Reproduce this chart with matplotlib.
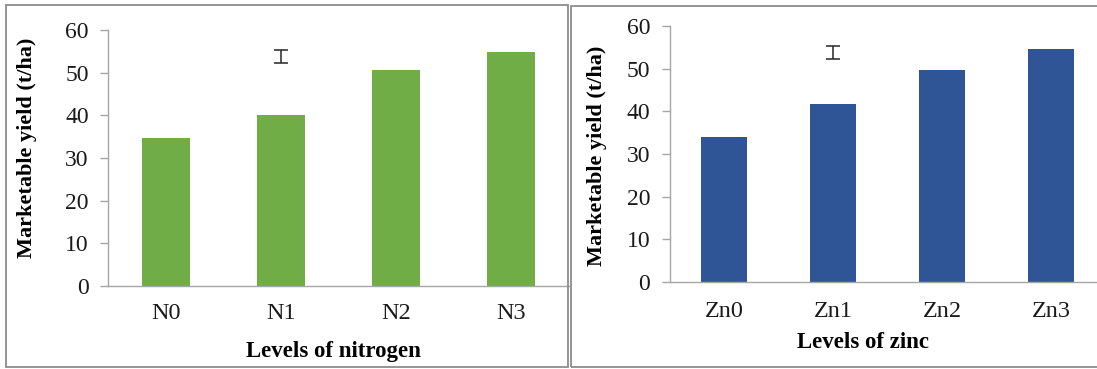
import matplotlib
matplotlib.use("Agg")
import matplotlib.pyplot as plt
from matplotlib.patches import Rectangle

# Marketable yield by nutrient level
nitrogen_levels = ["N0", "N1", "N2", "N3"]
nitrogen_yield = [34.7, 40.1, 50.7, 54.9]

zinc_levels = ["Zn0", "Zn1", "Zn2", "Zn3"]
zinc_yield = [34.0, 41.8, 49.8, 54.5]

# LSD bars (centre and half-length), drawn above level 1
lsd_centre = [53.8, 53.8]
lsd_half = [1.5, 1.5]

y_ticks = [0, 10, 20, 30, 40, 50, 60]

plt.rcParams["font.family"] = ["Liberation Serif", "DejaVu Serif"]

W, H = 1097, 369
fig = plt.figure(figsize=(W / 100, H / 100), dpi=100)

AXIS_GREY = "#A6A6A6"
FRAME_GREY = "#8C8C8C"


def px_axes(x0, y_top, width, height):
    return fig.add_axes([x0 / W, (H - y_top - height) / H, width / W, height / H])


def frame(x0, y0, x1, y1):
    fig.patches.append(Rectangle((x0 / W, 1 - y1 / H), (x1 - x0) / W, (y1 - y0) / H,
                                 transform=fig.transFigure, fill=False,
                                 edgecolor=FRAME_GREY, linewidth=1.3, zorder=0))


def panel(ax, cats, vals, colour, lsd_c, lsd_h, xlabel_pad):
    pos = list(range(len(cats)))
    ax.bar(pos, vals, width=0.42, color=colour, zorder=2)
    ax.errorbar([1], [lsd_c], yerr=[lsd_h], fmt="none", ecolor="#262626",
                elinewidth=1.1, capsize=4.8, capthick=1.1, zorder=3)
    ax.set_ylim(0, 60)
    ax.set_yticks(y_ticks)
    ax.set_xticks(pos)
    ax.set_xticklabels(cats, fontsize=17.5, color="#1a1a1a")
    ax.tick_params(axis="x", length=0, pad=xlabel_pad)
    ax.tick_params(axis="y", length=5.5, width=1.0, color=AXIS_GREY, pad=8.5,
                   labelsize=17, labelcolor="#1a1a1a")
    for s in ("top", "right"):
        ax.spines[s].set_visible(False)
    for s in ("left", "bottom"):
        ax.spines[s].set_color(AXIS_GREY)
        ax.spines[s].set_linewidth(1.0)
    ax.set_facecolor("none")


# Panel frames
frame(5.5, 5, 568, 366.5)
frame(570.5, 6, 1101, 367)

# Left: nitrogen
ax1 = px_axes(108.3, 30, 460.4, 256)
ax1.set_xlim(-0.5, 3.5)
panel(ax1, nitrogen_levels, nitrogen_yield, "#70AD47", lsd_centre[0], lsd_half[0], 12)

# Right: zinc
ax2 = px_axes(669.5, 26, 436, 256)
ax2.set_xlim(-0.5, 3.5)
panel(ax2, zinc_levels, zinc_yield, "#2F5597", lsd_centre[1], lsd_half[1], 14)

fig.text(27 / W, 1 - 148 / H, "Marketable yield (t/ha)", rotation=90, fontsize=16,
         fontweight="bold", ha="center", va="center")
fig.text(597 / W, 1 - 156 / H, "Marketable yield (t/ha)", rotation=90, fontsize=16,
         fontweight="bold", ha="center", va="center")
fig.text(333 / W, 1 - 351 / H, "Levels of nitrogen", fontsize=16.5, fontweight="bold",
         ha="center", va="center")
fig.text(863 / W, 1 - 343 / H, "Levels of zinc", fontsize=16.5, fontweight="bold",
         ha="center", va="center")

fig.savefig("out.png", dpi=100, facecolor="white")
